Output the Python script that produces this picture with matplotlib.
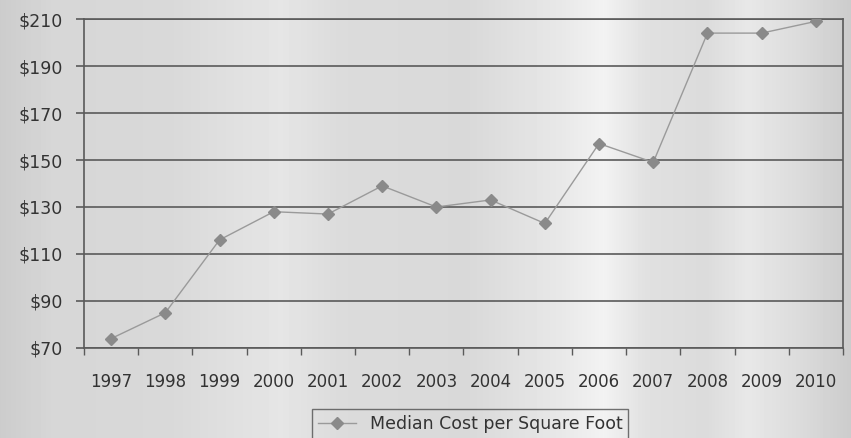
import numpy as np
import matplotlib
matplotlib.use("Agg")
import matplotlib.pyplot as plt
from matplotlib.ticker import FixedLocator, FuncFormatter

# Median construction cost per square foot, by year
years = ["1997", "1998", "1999", "2000", "2001", "2002", "2003",
         "2004", "2005", "2006", "2007", "2008", "2009", "2010"]
cost = [74, 85, 116, 128, 127, 139, 130, 133, 123, 157, 149, 204, 204, 209]
y_ticks = [70, 90, 110, 130, 150, 170, 190, 210]
series_name = "Median Cost per Square Foot"

text_color = "#333333"
grid_color = "#5a5a5a"
line_color = "#9a9a9a"
marker_color = "#8a8a8a"

fig = plt.figure(figsize=(8.51, 4.38), dpi=100)

# Paper-like backdrop with soft vertical light bands
bg = fig.add_axes([0, 0, 1, 1], zorder=-10)
xs = np.linspace(0, 1, 851)
ctrl_x = [0.0, 0.06, 0.2, 0.33, 0.4, 0.55, 0.66, 0.71, 0.76, 0.83, 0.88, 0.94, 1.0]
ctrl_v = [0.80, 0.84, 0.85, 0.90, 0.86, 0.85, 0.91, 0.95, 0.88, 0.86, 0.91, 0.86, 0.80]
prof = np.interp(xs, ctrl_x, ctrl_v)
img = np.tile(prof, (438, 1))
bg.imshow(img, cmap="gray", vmin=0, vmax=1, aspect="auto", extent=[0, 1, 0, 1])
bg.set_axis_off()

ax = fig.add_axes([0.0987, 0.2055, 0.8919, 0.7511])
ax.patch.set_alpha(0)

x = np.arange(len(years))
ax.plot(x, cost, color=line_color, lw=1.0, marker="D", markersize=6.5,
        markerfacecolor=marker_color, markeredgecolor=marker_color,
        label=series_name, zorder=3)

ax.set_xlim(-0.5, len(years) - 0.5)
ax.set_ylim(y_ticks[0], y_ticks[-1])
ax.set_yticks(y_ticks)
ax.yaxis.set_major_formatter(FuncFormatter(lambda v, p: f"${v:.0f}"))
ax.grid(axis="y", color=grid_color, lw=1.2, zorder=1)

ax.set_xticks(x)
ax.set_xticklabels(years)
ax.xaxis.set_minor_locator(FixedLocator(np.arange(-0.5, len(years), 1.0)))
ax.tick_params(axis="x", which="major", length=0, pad=18,
               labelsize=12, labelcolor=text_color)
ax.tick_params(axis="x", which="minor", length=5, width=1, color=grid_color,
               direction="out")
ax.tick_params(axis="y", length=6, width=1.2, color=grid_color, pad=9,
               labelsize=12.5, labelcolor=text_color)

for s in ax.spines.values():
    s.set_color(grid_color)
    s.set_linewidth(1.2)

leg = fig.legend(loc="upper center", bbox_to_anchor=(470 / 851, 1 - 409 / 438),
                 frameon=True, fancybox=False, fontsize=12.5, handlelength=2.2,
                 borderpad=0.35, borderaxespad=0, labelcolor=text_color)
leg.get_frame().set_edgecolor("#505050")
leg.get_frame().set_linewidth(1.0)
leg.get_frame().set_facecolor("none")

fig.savefig("out.png", dpi=100)
